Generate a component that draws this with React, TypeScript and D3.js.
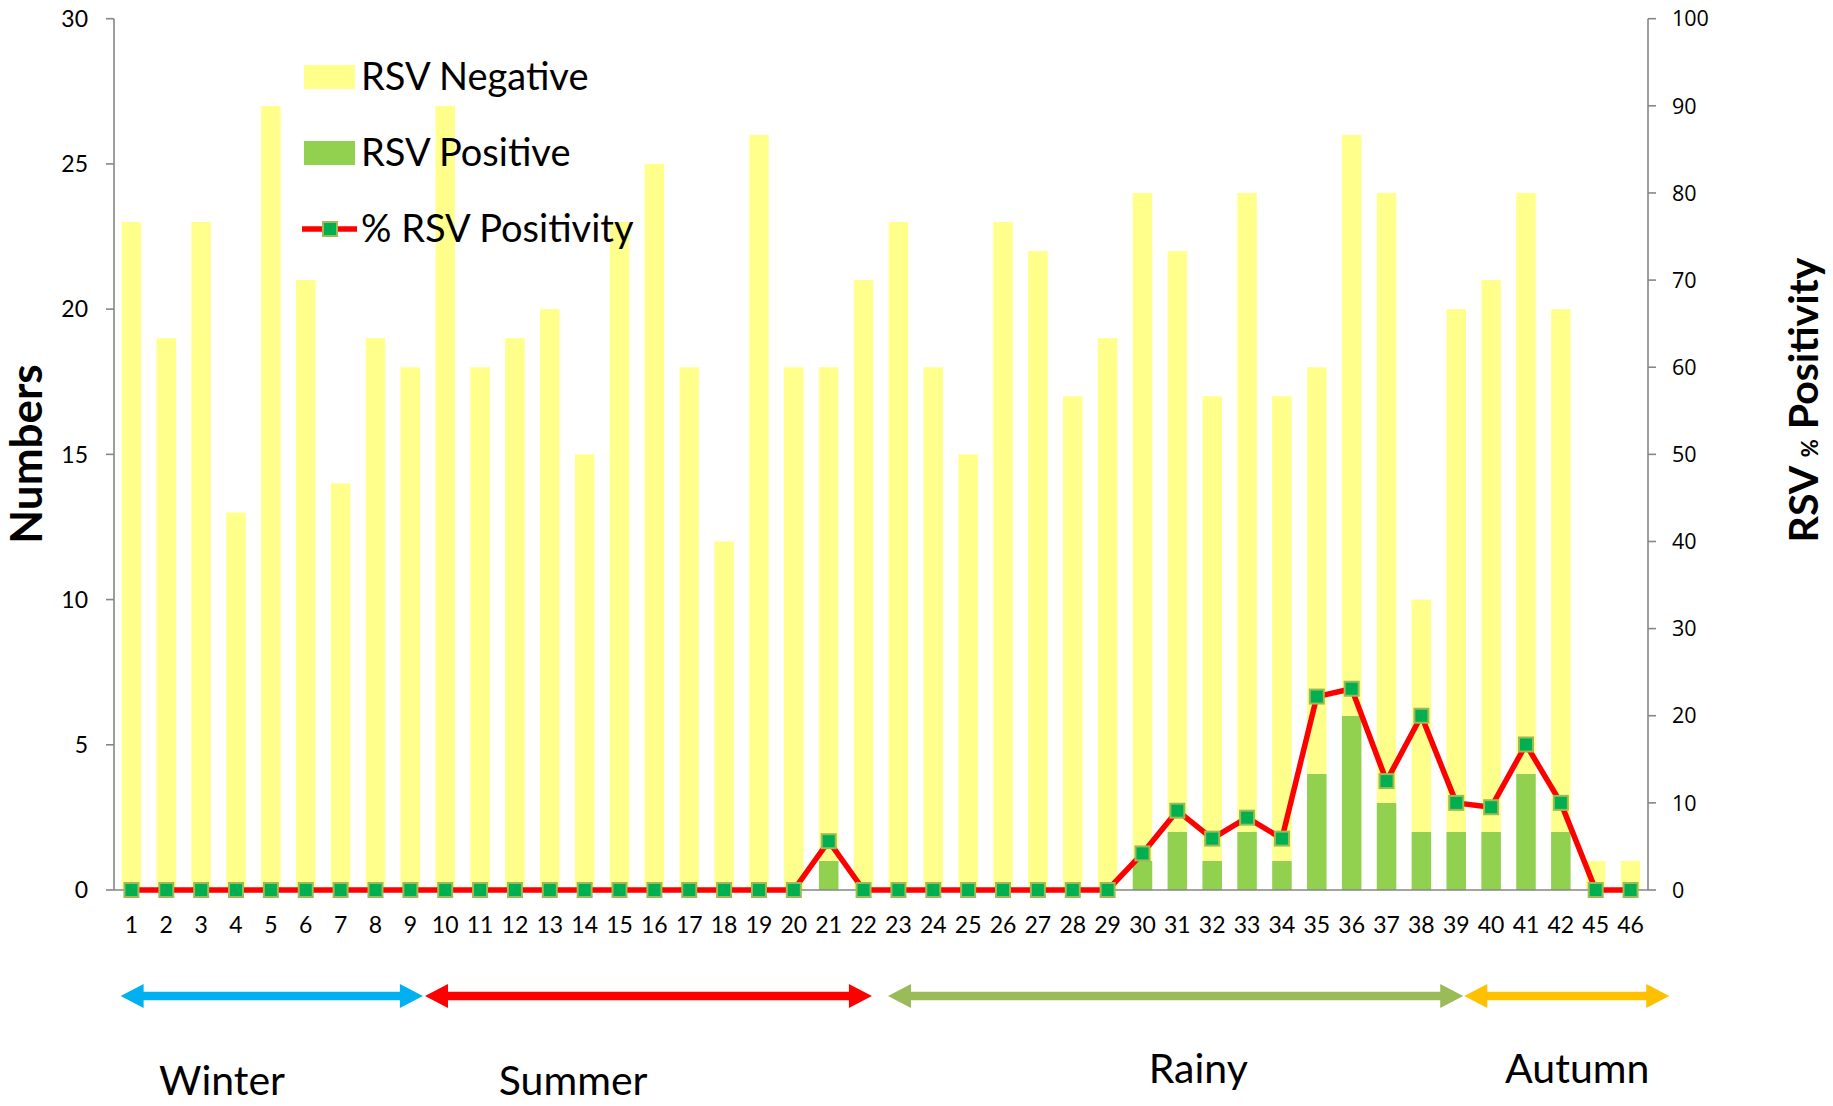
import React, { useEffect } from "react";
import * as d3 from "d3";

// ---------- DATA ----------
const categories = [
  "1","2","3","4","5","6","7","8","9","10","11","12","13","14","15","16","17","18","19","20",
  "21","22","23","24","25","26","27","28","29","30","31","32","33","34","35","36","37","38","39","40",
  "41","42","45","46",
];
const rsvPositive = [
  0,0,0,0,0,0,0,0,0,0,0,0,0,0,0,0,0,0,0,0,
  1,0,0,0,0,0,0,0,0,1,2,1,2,1,4,6,3,2,2,2,
  4,2,0,0,
];
const rsvNegative = [
  23,19,23,13,27,21,14,19,18,27,18,19,20,15,23,25,18,12,26,18,
  17,21,23,18,15,23,22,17,19,23,20,16,22,16,14,20,21,8,18,19,
  20,18,1,1,
];
const rsvPositivityPct = [
  0,0,0,0,0,0,0,0,0,0,0,0,0,0,0,0,0,0,0,0,
  5.6,0,0,0,0,0,0,0,0,4.2,9.1,5.9,8.3,5.9,22.2,23.1,12.5,20.0,10.0,9.5,
  16.7,10.0,0,0,
];
const leftTicks = [0, 5, 10, 15, 20, 25, 30];
const rightTicks = [0, 10, 20, 30, 40, 50, 60, 70, 80, 90, 100];
const legendLabels = ["RSV Negative", "RSV Positive", "% RSV Positivity"];
// seasons: start / end in category-index units (index of week category)
const seasonNames = ["Winter", "Summer", "Rainy", "Autumn"];
const seasonStart = [-0.31, 8.42, 21.7, 38.23];
const seasonEnd = [8.36, 21.24, 38.2, 44.11];

// ---------- STYLE / LAYOUT ----------
const W = 1833, H = 1106;
const PL = 114, PR = 1648, PT = 18.7, PB = 890;
const COLORS = {
  neg: "#FFFF8C",
  pos: "#92D050",
  line: "#FF0000",
  marker: "#00B050",
  markerStroke: "#9BBB59",
  axis: "#868686",
};
const seasonColors = ["#00B0F0", "#FF0000", "#9BBB59", "#FFC000"];
const seasonLabelX = [2.6, 12.67, 30.6, 41.47];
const seasonLabelY = [1095, 1095, 1083, 1083];
const FONT = "Lato, 'Open Sans', sans-serif";

export default function App() {
  useEffect(() => {
    document.body.style.margin = "0";
  }, []);

  const x = d3.scaleBand<string>().domain(categories).range([PL, PR]).paddingInner(0.44).paddingOuter(0.22);
  const yL = d3.scaleLinear().domain([0, 30]).range([PB, PT]);
  const yR = d3.scaleLinear().domain([0, 100]).range([PB, PT]);
  const step = x.step();
  const uPos = d3.scaleLinear().domain([-0.5, categories.length - 0.5]).range([PL, PL + step * categories.length]);

  const rows = categories.map((c, i) => ({ cat: c, pos: rsvPositive[i], neg: rsvNegative[i] }));
  const stacked = d3.stack<any>().keys(["pos", "neg"])(rows);

  const line = d3
    .line<number>()
    .x((_, i) => (x(categories[i]) as number) + x.bandwidth() / 2)
    .y((d) => yR(d));

  const arrowCy = 996;
  const st = 4.2, hh = 12, hl = 23;
  const arrowPath = (x0: number, x1: number) => {
    const pts: [number, number][] = [
      [x0, arrowCy], [x0 + hl, arrowCy - hh], [x0 + hl, arrowCy - st], [x1 - hl, arrowCy - st],
      [x1 - hl, arrowCy - hh], [x1, arrowCy], [x1 - hl, arrowCy + hh], [x1 - hl, arrowCy + st],
      [x0 + hl, arrowCy + st], [x0 + hl, arrowCy + hh],
    ];
    return "M" + pts.map((p) => p.join(",")).join("L") + "Z";
  };

  const mk = 14;

  return (
    <svg width={W} height={H} style={{ display: "block", background: "#fff" }} fontFamily={FONT}>
      {/* bars */}
      {stacked.map((layer) => (
        <g key={layer.key} fill={layer.key === "pos" ? COLORS.pos : COLORS.neg}>
          {layer.map((d: any, i: number) =>
            d[1] - d[0] > 0 ? (
              <rect
                key={i}
                x={x(categories[i])}
                width={x.bandwidth()}
                y={yL(d[1])}
                height={yL(d[0]) - yL(d[1])}
              />
            ) : null
          )}
        </g>
      ))}

      {/* axes */}
      <g stroke={COLORS.axis} strokeWidth={1.6} fill="none">
        <line x1={PL} x2={PL} y1={PT} y2={PB} />
        <line x1={PR} x2={PR} y1={PT} y2={PB} />
        <line x1={PL} x2={PR} y1={PB} y2={PB} />
        {leftTicks.map((t) => (
          <line key={"l" + t} x1={PL - 8} x2={PL} y1={yL(t)} y2={yL(t)} />
        ))}
        {rightTicks.map((t) => (
          <line key={"r" + t} x1={PR} x2={PR + 8} y1={yR(t)} y2={yR(t)} />
        ))}
      </g>
      {leftTicks.map((t) => (
        <text key={"lt" + t} x={88} y={yL(t)} dy="0.36em" textAnchor="end" fontSize={23} fill="#000">
          {t}
        </text>
      ))}
      {rightTicks.map((t) => (
        <text
          key={"rt" + t}
          x={1672}
          y={yR(t)}
          dy="0.36em"
          textAnchor="start"
          fontSize={21.5}
          fontFamily="'Open Sans', sans-serif"
          fill="#000"
        >
          {t}
        </text>
      ))}
      {categories.map((c) => (
        <text
          key={"c" + c}
          x={(x(c) as number) + x.bandwidth() / 2}
          y={933}
          textAnchor="middle"
          fontSize={23}
          fill="#000"
        >
          {c}
        </text>
      ))}

      {/* line + markers */}
      <path d={line(rsvPositivityPct) || ""} fill="none" stroke={COLORS.line} strokeWidth={5.5} strokeLinejoin="round" />
      {rsvPositivityPct.map((v, i) => (
        <rect
          key={"m" + i}
          x={(x(categories[i]) as number) + x.bandwidth() / 2 - mk / 2}
          y={yR(v) - mk / 2}
          width={mk}
          height={mk}
          fill={COLORS.marker}
          stroke={COLORS.markerStroke}
          strokeWidth={2}
        />
      ))}

      {/* legend */}
      <g>
        <rect x={304} y={65} width={51} height={24} fill={COLORS.neg} />
        <text x={361} y={90} fontSize={38}>{legendLabels[0]}</text>
        <rect x={304} y={141} width={51} height={24} fill={COLORS.pos} />
        <text x={361} y={166} fontSize={38}>{legendLabels[1]}</text>
        <line x1={302} x2={357} y1={229} y2={229} stroke={COLORS.line} strokeWidth={5.5} />
        <rect x={330 - mk / 2} y={229 - mk / 2} width={mk} height={mk} fill={COLORS.marker} stroke={COLORS.markerStroke} strokeWidth={2} />
        <text x={361} y={242} fontSize={38}>{legendLabels[2]}</text>
      </g>

      {/* axis titles */}
      <text transform="translate(42,454) rotate(-90)" textAnchor="middle" fontSize={44} fontWeight="bold">
        Numbers
      </text>
      <text transform="translate(1818,400) rotate(-90)" textAnchor="middle" fontSize={41} fontWeight="bold">
        RSV <tspan fontSize={22}>%</tspan> Positivity
      </text>

      {/* seasons */}
      {seasonNames.map((s, i) => (
        <g key={s}>
          <path d={arrowPath(uPos(seasonStart[i]), uPos(seasonEnd[i]))} fill={seasonColors[i]} />
          <text x={uPos(seasonLabelX[i])} y={seasonLabelY[i]} textAnchor="middle" fontSize={41} fill="#000">
            {s}
          </text>
        </g>
      ))}
    </svg>
  );
}
